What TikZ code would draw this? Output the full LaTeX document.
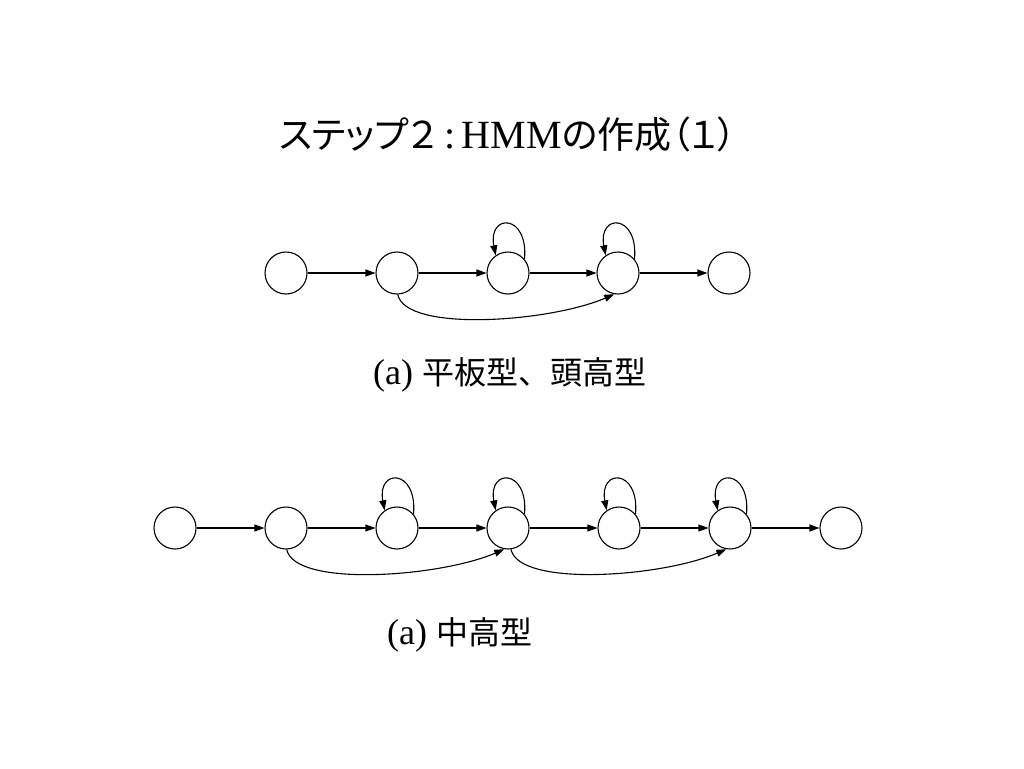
\documentclass[tikz,border=0pt]{standalone}
\usepackage{fontspec}
\setmainfont{Liberation Serif}
\newfontfamily\jp{Noto Sans CJK JP}
\newfontfamily\jpp[RawFeature=+palt]{Noto Sans CJK JP}
\usetikzlibrary{arrows.meta}
\begin{document}
\begin{tikzpicture}[x=1pt,y=-1pt,
  st/.style={circle,draw,line width=1.1pt,minimum size=42pt,inner sep=0pt},
  ar/.style={line width=1.1pt,-{Triangle[length=10pt,width=7pt]}},
  lbl/.style={inner sep=0pt,anchor=base west,font=\fontsize{36pt}{38pt}\selectfont}]
\useasboundingbox[fill=white] (0,0) rectangle (1024,768);
\node[inner sep=0pt,anchor=base west,font=\fontsize{40pt}{42pt}\selectfont] (title) at (279,148)
  {{\jpp\fontsize{37pt}{39pt}\selectfont ステップ２}\,:\,HMM{\jpp\fontsize{37pt}{39pt}\selectfont の作成（１）}};
% top diagram
\foreach \i/\x in {1/286,2/397,3/508,4/618,5/729}
  \node[st] (a\i) at (\x,273) {};
\draw[ar] (a1) -- (a2);
\draw[ar] (a2) -- (a3);
\draw[ar] (a3) -- (a4);
\draw[ar] (a4) -- (a5);
\foreach \i in {3,4}
  \draw[ar] (a\i.40) .. controls +(4,-46) and +(-8,-42) .. (a\i.125);
\draw[ar] (a2.-88) .. controls +(8,38) and +(-65,28) .. (a4.-100);
\node[lbl] (cap1) at (373,384) {(a) {\jp\fontsize{32pt}{34pt}\selectfont 平板型、頭高型}};
% bottom diagram
\foreach \i/\x in {1/175,2/286,3/397,4/508,5/619,6/730,7/841}
  \node[st] (b\i) at (\x,528) {};
\foreach \i/\j in {1/2,2/3,3/4,4/5,5/6,6/7}
  \draw[ar] (b\i) -- (b\j);
\foreach \i in {3,4,5,6}
  \draw[ar] (b\i.40) .. controls +(4,-46) and +(-8,-42) .. (b\i.125);
\draw[ar] (b2.-88) .. controls +(8,38) and +(-65,28) .. (b4.-100);
\draw[ar] (b4.-82) .. controls +(8,38) and +(-65,28) .. (b6.-100);
\node[lbl] (cap2) at (387,644) {(a) {\jp\fontsize{32pt}{34pt}\selectfont 中高型}};
\end{tikzpicture}
\end{document}
